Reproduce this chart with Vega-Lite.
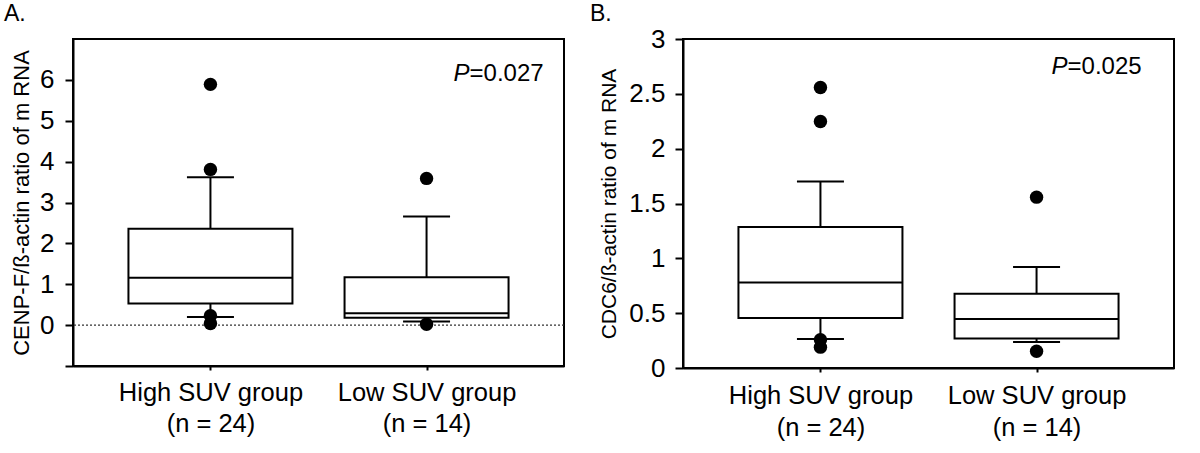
{
  "$schema": "https://vega.github.io/schema/vega-lite/v6.json",
  "background": "white",
  "padding": {"left": 3, "top": 2, "right": 5, "bottom": 0},
  "spacing": 23,
  "config": {
    "font": "Liberation Sans",
    "view": {"stroke": "black", "strokeWidth": 2},
    "axis": {"domainColor": "black", "tickColor": "black", "labelColor": "black", "titleColor": "black", "grid": false, "domainWidth": 2, "tickWidth": 2, "titleFontWeight": "normal", "labelLimit": 0},
    "title": {"anchor": "start", "fontSize": 23, "fontWeight": "normal", "frame": "group", "color": "black"}
  },
  "datasets": {
    "boxA": [
      {"group": "High SUV group|(n = 24)", "lower": 0.20, "q1": 0.53, "median": 1.16, "q3": 2.36, "upper": 3.62},
      {"group": "Low SUV group|(n = 14)", "lower": 0.09, "q1": 0.18, "median": 0.29, "q3": 1.17, "upper": 2.66}
    ],
    "outA": [
      {"group": "High SUV group|(n = 24)", "value": 5.89},
      {"group": "High SUV group|(n = 24)", "value": 3.81},
      {"group": "High SUV group|(n = 24)", "value": 0.23},
      {"group": "High SUV group|(n = 24)", "value": 0.04},
      {"group": "Low SUV group|(n = 14)", "value": 3.59},
      {"group": "Low SUV group|(n = 14)", "value": 0.02}
    ],
    "boxB": [
      {"group": "High SUV group|(n = 24)", "lower": 0.264, "q1": 0.455, "median": 0.78, "q3": 1.285, "upper": 1.70},
      {"group": "Low SUV group|(n = 14)", "lower": 0.237, "q1": 0.27, "median": 0.446, "q3": 0.677, "upper": 0.92}
    ],
    "outB": [
      {"group": "High SUV group|(n = 24)", "value": 2.557},
      {"group": "High SUV group|(n = 24)", "value": 2.247},
      {"group": "High SUV group|(n = 24)", "value": 0.258},
      {"group": "High SUV group|(n = 24)", "value": 0.19},
      {"group": "Low SUV group|(n = 14)", "value": 1.558},
      {"group": "Low SUV group|(n = 14)", "value": 0.152}
    ],
    "pA": [{"group": "Low SUV group|(n = 14)", "y": 5.97, "p": "P", "v": "=0.027"}],
    "pB": [{"group": "Low SUV group|(n = 14)", "y": 2.68, "p": "P", "v": "=0.025"}],
    "zero": [{"y": 0}]
  },
  "hconcat": [
    {
      "title": {"text": "A.", "dx": -69, "offset": 13},
      "width": 491,
      "height": 327,
      "layer": [
        {
          "data": {"name": "zero"},
          "mark": {"type": "rule", "strokeDash": [2, 2], "strokeWidth": 1.3, "color": "#333333"},
          "encoding": {"y": {"field": "y", "type": "quantitative", "scale": {"domain": [-1, 7], "nice": false, "zero": false}}}
        },
        {
          "data": {"name": "boxA"},
          "mark": {"type": "rule", "strokeWidth": 2, "color": "black"},
          "encoding": {
            "x": {"field": "group", "type": "nominal", "sort": null,
              "scale": {"type": "point", "padding": 0.636},
              "axis": {"title": null, "labelExpr": "split(datum.label, '|')", "labelFontSize": 25.5, "labelLineHeight": 31, "labelPadding": 10, "tickSize": 4, "labelAngle": 0}},
            "y": {"field": "lower", "type": "quantitative",
              "scale": {"domain": [-1, 7], "nice": false, "zero": false},
              "axis": {"title": "CENP-F/ß-actin ratio of m RNA", "titleFontSize": 22, "titlePadding": 6,
                "values": [-1, -0.5, 0, 0.5, 1, 1.5, 2, 2.5, 3, 3.5, 4, 4.5, 5, 5.5, 6, 6.5],
                "labelExpr": "(datum.value % 1 === 0 && datum.value >= 0) ? format(datum.value, 'd') : ''",
                "labelFontSize": 26, "labelPadding": 11,
                "tickSize": {"condition": {"test": "datum.value % 1 === 0", "value": 8}, "value": 5}}},
            "y2": {"field": "upper"}
          }
        },
        {
          "data": {"name": "boxA"},
          "mark": {"type": "bar", "width": 164, "fill": "white", "stroke": "black", "strokeWidth": 2},
          "encoding": {"x": {"field": "group", "type": "nominal", "sort": null}, "y": {"field": "q1", "type": "quantitative"}, "y2": {"field": "q3"}}
        },
        {
          "data": {"name": "boxA"},
          "mark": {"type": "tick", "size": 164, "thickness": 2, "color": "black", "opacity": 1},
          "encoding": {"x": {"field": "group", "type": "nominal", "sort": null}, "y": {"field": "median", "type": "quantitative"}}
        },
        {
          "data": {"name": "boxA"},
          "mark": {"type": "tick", "size": 47, "thickness": 2, "color": "black", "opacity": 1},
          "encoding": {"x": {"field": "group", "type": "nominal", "sort": null}, "y": {"field": "lower", "type": "quantitative"}}
        },
        {
          "data": {"name": "boxA"},
          "mark": {"type": "tick", "size": 47, "thickness": 2, "color": "black", "opacity": 1},
          "encoding": {"x": {"field": "group", "type": "nominal", "sort": null}, "y": {"field": "upper", "type": "quantitative"}}
        },
        {
          "data": {"name": "outA"},
          "mark": {"type": "circle", "size": 180, "color": "black", "opacity": 1},
          "encoding": {"x": {"field": "group", "type": "nominal", "sort": null}, "y": {"field": "value", "type": "quantitative"}}
        },
        {
          "data": {"name": "pA"},
          "mark": {"type": "text", "fontSize": 24, "fontStyle": "italic", "align": "right", "baseline": "alphabetic", "dx": 43, "color": "black"},
          "encoding": {"x": {"field": "group", "type": "nominal", "sort": null}, "y": {"field": "y", "type": "quantitative"}, "text": {"field": "p"}}
        },
        {
          "data": {"name": "pA"},
          "mark": {"type": "text", "fontSize": 24, "align": "left", "baseline": "alphabetic", "dx": 43, "color": "black"},
          "encoding": {"x": {"field": "group", "type": "nominal", "sort": null}, "y": {"field": "y", "type": "quantitative"}, "text": {"field": "v"}}
        }
      ]
    },
    {
      "title": {"text": "B.", "dx": -93, "offset": 0},
      "width": 491,
      "height": 329,
      "layer": [
        {
          "data": {"name": "boxB"},
          "mark": {"type": "rule", "strokeWidth": 2, "color": "black"},
          "encoding": {
            "x": {"field": "group", "type": "nominal", "sort": null,
              "scale": {"type": "point", "padding": 0.636},
              "axis": {"title": null, "labelExpr": "split(datum.label, '|')", "labelFontSize": 25.5, "labelLineHeight": 32, "labelPadding": 11, "tickSize": 4, "labelAngle": 0}},
            "y": {"field": "lower", "type": "quantitative",
              "scale": {"domain": [0, 3], "nice": false, "zero": false},
              "axis": {"title": "CDC6/ß-actin ratio of m RNA", "titleFontSize": 21, "titlePadding": 9,
                "values": [0, 0.25, 0.5, 0.75, 1, 1.25, 1.5, 1.75, 2, 2.25, 2.5, 2.75, 3],
                "labelExpr": "((datum.value * 2) % 1 === 0) ? format(datum.value, '~g') : ''",
                "labelFontSize": 26, "labelPadding": 10,
                "tickSize": {"condition": {"test": "(datum.value * 2) % 1 === 0", "value": 8}, "value": 5}}},
            "y2": {"field": "upper"}
          }
        },
        {
          "data": {"name": "boxB"},
          "mark": {"type": "bar", "width": 164, "fill": "white", "stroke": "black", "strokeWidth": 2},
          "encoding": {"x": {"field": "group", "type": "nominal", "sort": null}, "y": {"field": "q1", "type": "quantitative"}, "y2": {"field": "q3"}}
        },
        {
          "data": {"name": "boxB"},
          "mark": {"type": "tick", "size": 164, "thickness": 2, "color": "black", "opacity": 1},
          "encoding": {"x": {"field": "group", "type": "nominal", "sort": null}, "y": {"field": "median", "type": "quantitative"}}
        },
        {
          "data": {"name": "boxB"},
          "mark": {"type": "tick", "size": 47, "thickness": 2, "color": "black", "opacity": 1},
          "encoding": {"x": {"field": "group", "type": "nominal", "sort": null}, "y": {"field": "lower", "type": "quantitative"}}
        },
        {
          "data": {"name": "boxB"},
          "mark": {"type": "tick", "size": 47, "thickness": 2, "color": "black", "opacity": 1},
          "encoding": {"x": {"field": "group", "type": "nominal", "sort": null}, "y": {"field": "upper", "type": "quantitative"}}
        },
        {
          "data": {"name": "outB"},
          "mark": {"type": "circle", "size": 180, "color": "black", "opacity": 1},
          "encoding": {"x": {"field": "group", "type": "nominal", "sort": null}, "y": {"field": "value", "type": "quantitative"}}
        },
        {
          "data": {"name": "pB"},
          "mark": {"type": "text", "fontSize": 24, "fontStyle": "italic", "align": "right", "baseline": "alphabetic", "dx": 31, "color": "black"},
          "encoding": {"x": {"field": "group", "type": "nominal", "sort": null}, "y": {"field": "y", "type": "quantitative"}, "text": {"field": "p"}}
        },
        {
          "data": {"name": "pB"},
          "mark": {"type": "text", "fontSize": 24, "align": "left", "baseline": "alphabetic", "dx": 31, "color": "black"},
          "encoding": {"x": {"field": "group", "type": "nominal", "sort": null}, "y": {"field": "y", "type": "quantitative"}, "text": {"field": "v"}}
        }
      ]
    }
  ]
}
